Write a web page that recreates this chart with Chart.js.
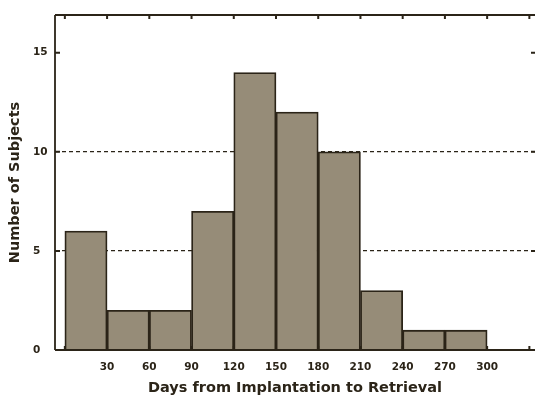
<!DOCTYPE html>
<html>
<head>
<meta charset="utf-8">
<script src="https://cdn.jsdelivr.net/npm/chart.js@4.4.1/dist/chart.umd.min.js"></script>
<style>
  html, body { margin: 0; padding: 0; background: #fff; }
  #wrap { width: 535px; height: 402px; }
</style>
</head>
<body>
<div id="wrap"><canvas id="histChart" width="535" height="402"></canvas></div>
<script>
// Histogram data: bins of 30 days
const binStarts = [0, 30, 60, 90, 120, 150, 180, 210, 240, 270];
const binWidth = 30;
const subjectCounts = [6, 2, 2, 7, 14, 12, 10, 3, 1, 1];
const xTickValues = [0, 30, 60, 90, 120, 150, 180, 210, 240, 270, 300, 330];
const xLabelValues = [30, 60, 90, 120, 150, 180, 210, 240, 270, 300];
const yTickValues = [0, 5, 10, 15];
const yGridValues = [5, 10];

const ink = '#2b2418';
const barFill = 'rgb(150, 140, 120)';
const fontFamily = '"DejaVu Sans", Verdana, sans-serif';

// Frame lines and inward tick marks
const framePlugin = {
    id: 'frame',
    afterDatasetsDraw(chart) {
        const ctx = chart.ctx;
        const area = chart.chartArea;
        const xs = chart.scales.x;
        const ys = chart.scales.y;
        ctx.save();
        ctx.strokeStyle = ink;
        ctx.lineWidth = 1.8;
        ctx.beginPath();
        ctx.moveTo(area.left, area.top);
        ctx.lineTo(area.right, area.top);
        ctx.moveTo(area.left, area.top);
        ctx.lineTo(area.left, area.bottom);
        ctx.moveTo(area.left, area.bottom);
        ctx.lineTo(area.right, area.bottom);
        ctx.stroke();

        ctx.lineWidth = 2;
        ctx.beginPath();
        xTickValues.forEach(v => {
            const px = xs.getPixelForValue(v);
            ctx.moveTo(px, area.top);
            ctx.lineTo(px, area.top + 4);
            ctx.moveTo(px, area.bottom);
            ctx.lineTo(px, area.bottom - 4);
        });
        yTickValues.forEach(v => {
            if (v === 0) return;
            const py = ys.getPixelForValue(v);
            ctx.moveTo(area.left, py);
            ctx.lineTo(area.left + 5, py);
            ctx.moveTo(area.right, py);
            ctx.lineTo(area.right - 4, py);
        });
        ctx.stroke();

        // y axis title
        ctx.fillStyle = ink;
        ctx.font = 'bold 14.5px ' + fontFamily;
        ctx.textAlign = 'center';
        ctx.textBaseline = 'middle';
        ctx.translate(15, (area.top + area.bottom) / 2);
        ctx.rotate(-Math.PI / 2);
        ctx.fillText('Number of Subjects', 0, 0);
        ctx.restore();
    }
};

const ctx = document.getElementById('histChart').getContext('2d');
new Chart(ctx, {
    type: 'bar',
    data: {
        datasets: [{
            data: binStarts.map((s, i) => ({ x: s + binWidth / 2, y: subjectCounts[i] })),
            backgroundColor: barFill,
            borderColor: ink,
            borderWidth: 1.8,
            barPercentage: 1,
            categoryPercentage: 1,
            grouped: false
        }]
    },
    options: {
        responsive: false,
        animation: false,
        layout: { padding: { left: 33, top: 15, right: 0, bottom: 0 } },
        plugins: {
            legend: { display: false },
            tooltip: { enabled: false }
        },
        scales: {
            x: {
                type: 'linear',
                offset: false,
                min: -7,
                max: 334,
                afterBuildTicks: scale => { scale.ticks = xTickValues.map(v => ({ value: v })); },
                afterFit: scale => {
                    scale.height = 52;
                    scale.paddingLeft = 0;
                    scale.paddingRight = 0;
                },
                grid: { display: false, drawTicks: false },
                border: { display: false },
                ticks: {
                    padding: 11,
                    color: ink,
                    font: { family: fontFamily, size: 10.5, weight: 'bold' },
                    callback: v => xLabelValues.includes(v) ? String(v) : ''
                },
                title: {
                    display: true,
                    text: 'Days from Implantation to Retrieval',
                    color: ink,
                    font: { family: fontFamily, size: 14.5, weight: 'bold' },
                    padding: { top: 0, bottom: 5 }
                }
            },
            y: {
                min: 0,
                max: 16.9,
                afterBuildTicks: scale => { scale.ticks = yTickValues.map(v => ({ value: v })); },
                afterFit: scale => {
                    scale.width = 22;
                    scale.paddingTop = 0;
                    scale.paddingBottom = 0;
                },
                grid: {
                    drawTicks: false,
                    lineWidth: 1.2,
                    color: c => yGridValues.includes(c.tick.value) ? ink : 'rgba(0,0,0,0)'
                },
                border: { display: false, dash: [4, 3] },
                ticks: {
                    crossAlign: 'far',
                    color: ink,
                    font: { family: fontFamily, size: 10.5, weight: 'bold' },
                    callback: v => String(v)
                }
            }
        }
    },
    plugins: [framePlugin]
});
</script>
</body>
</html>
